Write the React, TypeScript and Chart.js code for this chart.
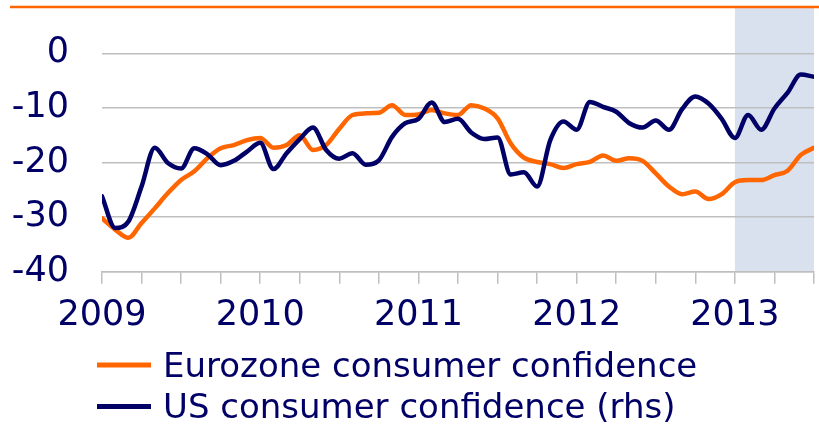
import React, { useEffect, useRef } from "react";
import { Chart, registerables } from "chart.js";

Chart.register(...registerables);

// Months since Jan 2009 (0 = Jan 2009 ... 54 = Jul 2013)
const startYear = 2009;
const months = Array.from({ length: 55 }, (_, i) => i);

const eurozone = [
  -30.2, -32.3, -33.8, -31.1, -28.4, -25.6, -23.2, -21.6, -19.2, -17.4,
  -16.8, -15.9, -15.5, -17.3, -16.8, -15.0, -17.7, -16.8, -13.8, -11.3,
  -11.0, -10.9, -9.5, -11.3, -11.2, -10.4, -11.0, -11.3, -9.5, -10.1,
  -11.9, -16.5, -19.1, -19.9, -20.3, -21.0, -20.3, -19.9, -18.7, -19.7,
  -19.2, -19.7, -22.0, -24.4, -25.8, -25.3, -26.7, -25.8, -23.6, -23.2,
  -23.2, -22.3, -21.5, -18.6, -17.3,
];

const usConfidence = [
  -26.2, -32.0, -30.8, -24.4, -17.3, -20.1, -21.1, -17.4, -18.5, -20.5,
  -19.7, -18.0, -16.4, -21.2, -18.3, -15.7, -13.6, -17.7, -19.3, -18.3,
  -20.4, -19.6, -15.3, -12.8, -12.0, -9.0, -12.6, -12.0, -14.5, -15.7,
  -15.4, -22.2, -21.8, -24.4, -15.9, -12.5, -14.0, -8.9, -9.8, -10.7,
  -12.8, -13.6, -12.3, -14.0, -10.2, -7.9, -9.2, -12.0, -15.5, -11.3,
  -14.0, -10.1, -7.2, -3.9, -4.3,
];

const yTicks = [-40, -30, -20, -10, 0];
const seriesLabels = ["Eurozone consumer confidence", "US consumer confidence (rhs)"];
const shadeStart = 48; // Jan 2013
const shadeEnd = 54;

const ORANGE = "#ff6600";
const NAVY = "#000066";
const GRID = "#bfbfbf";
const FONT = "'DejaVu Sans', sans-serif";

export default function App() {
  const ref = useRef<HTMLCanvasElement | null>(null);

  useEffect(() => {
    document.body.style.margin = "0";
    const canvas = ref.current;
    if (!canvas) return;

    const shadePlugin = {
      id: "shade",
      beforeDraw(chart: any) {
        const { ctx, chartArea, scales } = chart;
        const x0 = scales.x.getPixelForValue(shadeStart);
        const x1 = scales.x.getPixelForValue(shadeEnd);
        ctx.save();
        ctx.fillStyle = "#d9e1ef";
        ctx.fillRect(x0, chartArea.top, x1 - x0, chartArea.bottom - chartArea.top);
        ctx.restore();
      },
    };

    const decorPlugin = {
      id: "decor",
      afterDraw(chart: any) {
        const { ctx } = chart;
        ctx.save();
        // top rule
        ctx.strokeStyle = ORANGE;
        ctx.lineWidth = 2.5;
        ctx.beginPath();
        ctx.moveTo(10, 7);
        ctx.lineTo(chart.width, 7);
        ctx.stroke();
        // legend
        const rows = [
          { y: 365, base: 376.7 },
          { y: 406.5, base: 418.3 },
        ];
        chart.data.datasets.forEach((ds: any, i: number) => {
          const r = rows[i];
          ctx.strokeStyle = ds.borderColor;
          ctx.lineWidth = 5;
          ctx.lineCap = "butt";
          ctx.beginPath();
          ctx.moveTo(97, r.y);
          ctx.lineTo(151, r.y);
          ctx.stroke();
          ctx.fillStyle = NAVY;
          ctx.font = `34px ${FONT}`;
          ctx.textBaseline = "alphabetic";
          ctx.textAlign = "left";
          ctx.fillText(ds.label, 163, r.base);
        });
        ctx.restore();
      },
    };

    const chart = new Chart(canvas, {
      type: "line",
      data: {
        datasets: [
          {
            label: seriesLabels[0],
            data: months.map((m, i) => ({ x: m, y: eurozone[i] })),
            borderColor: ORANGE,
            backgroundColor: ORANGE,
            borderWidth: 4.5,
            pointRadius: 0,
            cubicInterpolationMode: "monotone",
            borderCapStyle: "round",
            borderJoinStyle: "round",
            yAxisID: "y",
            order: 2,
          },
          {
            label: seriesLabels[1],
            data: months.map((m, i) => ({ x: m, y: usConfidence[i] })),
            borderColor: NAVY,
            backgroundColor: NAVY,
            borderWidth: 4.5,
            pointRadius: 0,
            cubicInterpolationMode: "monotone",
            borderCapStyle: "round",
            borderJoinStyle: "round",
            yAxisID: "y1",
            order: 1,
          },
        ],
      },
      options: {
        responsive: false,
        animation: false,
        layout: { padding: { top: 8, right: 5, left: 0, bottom: 0 } },
        plugins: {
          legend: { display: false },
          tooltip: { enabled: false },
        },
        scales: {
          x: {
            type: "linear",
            min: 0,
            max: 54,
            afterBuildTicks: (s: any) => {
              const t = [];
              for (let v = 0; v <= 54; v += 3) t.push({ value: v });
              s.ticks = t;
            },
            afterFit: (s: any) => {
              s.height = 155.3;
              s.paddingLeft = 0;
              s.paddingRight = 0;
            },
            ticks: {
              autoSkip: false,
              maxRotation: 0,
              padding: 11,
              color: NAVY,
              font: { family: FONT, size: 35 },
              callback: (v: any) => (Number(v) % 12 === 0 ? String(startYear + Number(v) / 12) : ""),
            },
            grid: {
              drawOnChartArea: false,
              drawTicks: true,
              tickLength: 12,
              color: GRID,
              lineWidth: 1.5,
            },
            border: { display: true, color: GRID, width: 1.5 },
          },
          y: {
            min: -40,
            max: 8.3,
            afterBuildTicks: (s: any) => {
              s.ticks = yTicks.map((v) => ({ value: v }));
            },
            afterFit: (s: any) => {
              s.width = 102;
              s.paddingTop = 0;
              s.paddingBottom = 0;
            },
            ticks: {
              padding: 33,
              color: NAVY,
              font: { family: FONT, size: 35 },
            },
            grid: { drawTicks: false, color: GRID, lineWidth: 1.5 },
            border: { display: false },
          },
          y1: {
            display: false,
            min: -40,
            max: 8.3,
          },
        },
      },
      plugins: [shadePlugin, decorPlugin],
    } as any);

    return () => chart.destroy();
  }, []);

  return <canvas ref={ref} width={819} height={427} style={{ display: "block" }} />;
}
